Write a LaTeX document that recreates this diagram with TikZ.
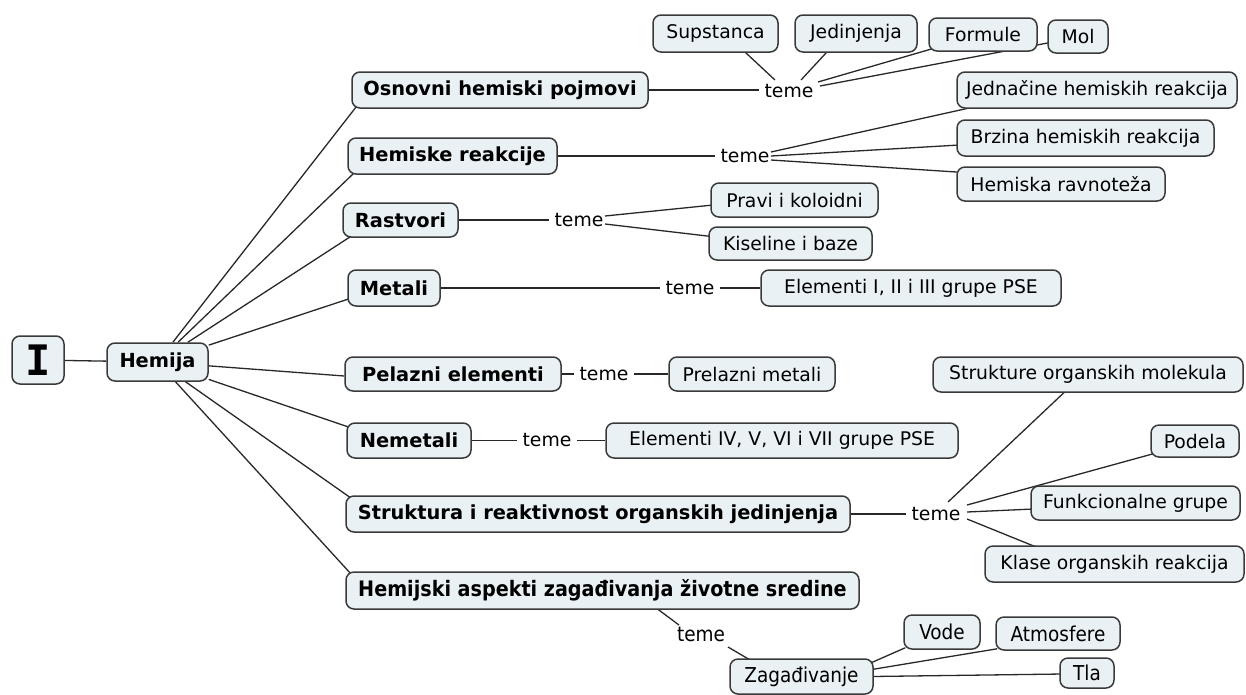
\documentclass[tikz,border=0pt]{standalone}
\usepackage{fontspec}
\setmainfont{DejaVu Sans}
\newfontfamily\condfont{DejaVu Sans Condensed}
\newfontfamily\slabfont{DejaVu Sans Mono}
\usetikzlibrary{calc,backgrounds}
\definecolor{boxfill}{RGB}{234,241,245}
\definecolor{boxline}{RGB}{58,58,58}
\definecolor{linecol}{RGB}{40,40,40}
\begin{document}
\begin{tikzpicture}[x=1pt,y=-1pt,
 box/.style={draw=boxline, fill=boxfill, line width=1.5pt, rounded corners=8pt, inner sep=0pt, align=center, font=\fontsize{18.8}{22}\selectfont},
 mainbox/.style={box, font=\fontsize{19.4}{23}\selectfont\bfseries},
 cbox/.style={box, font=\fontsize{20.5}{24}\selectfont\condfont},
 cmain/.style={box, font=\fontsize{21.3}{24}\selectfont\condfont\bfseries},
 tm/.style={inner xsep=5pt, inner ysep=2pt, font=\fontsize{18.8}{22}\selectfont},
 ctm/.style={inner xsep=5pt, inner ysep=2pt, font=\fontsize{20.5}{24}\selectfont\condfont},
 link/.style={draw=linecol, line width=1.3pt}]
\useasboundingbox (0,0) rectangle (1246,694);

% root
\node[box, minimum width=52pt, minimum height=48pt, font=\fontsize{42}{46}\selectfont\slabfont\bfseries] (root) at (38,360) {I};
\node[mainbox, minimum width=101pt, minimum height=38pt] (hemija) at (157.5,362) {Hemija};

% main topics
\node[mainbox, minimum width=296pt, minimum height=36pt] (osn) at (500,90) {Osnovni hemiski pojmovi};
\node[mainbox, minimum width=209pt, minimum height=36pt] (hem) at (452.5,156) {Hemiske reakcije};
\node[mainbox, minimum width=115pt, minimum height=34pt] (ras) at (400.5,220) {Rastvori};
\node[mainbox, minimum width=92pt, minimum height=36pt] (met) at (394,288) {Metali};
\node[mainbox, minimum width=216pt, minimum height=34pt] (pel) at (453,374) {Pelazni elementi};
\node[mainbox, minimum width=124pt, minimum height=35pt] (nem) at (409,440.5) {Nemetali};
\node[mainbox, minimum width=504pt, minimum height=36pt] (str) at (598,514) {Struktura i reaktivnost organskih jedinjenja};
\node[cmain, minimum width=513pt, minimum height=37pt] (hza) at (602.5,590.5) {Hemijski aspekti zagađivanja životne sredine};

% teme labels
\node[tm] (t1) at (789,91) {teme};
\node[tm] (t2) at (745,156) {teme};
\node[tm] (t3) at (579,220) {teme};
\node[tm] (t4) at (690,288) {teme};
\node[tm] (t5) at (604,374) {teme};
\node[tm] (t6) at (547,440.5) {teme};
\node[tm] (t7) at (936,514) {teme};
\node[ctm] (t8) at (701,634) {teme};

% leaves
\node[box, minimum width=125pt, minimum height=37pt] (sup) at (715.5,33.5) {Supstanca};
\node[box, minimum width=122pt, minimum height=37pt] (jed) at (856,33.5) {Jedinjenja};
\node[box, minimum width=108pt, minimum height=33pt] (for) at (983,34.5) {Formule};
\node[box, minimum width=60pt, minimum height=33pt] (mol) at (1078,36.5) {Mol};
\node[box, minimum width=280pt, minimum height=36pt] (jedn) at (1097,90) {Jednačine hemiskih reakcija};
\node[box, minimum width=257pt, minimum height=36pt] (brz) at (1085.5,138) {Brzina hemiskih reakcija};
\node[box, minimum width=208pt, minimum height=34pt] (rav) at (1061,184) {Hemiska ravnoteža};
\node[box, minimum width=167pt, minimum height=34pt] (pra) at (794.5,200) {Pravi i koloidni};
\node[box, minimum width=163pt, minimum height=33pt] (kis) at (790.5,243.5) {Kiseline i baze};
\node[box, minimum width=300pt, minimum height=36pt] (el1) at (911,288) {Elementi I, II i III grupe PSE};
\node[box, minimum width=166pt, minimum height=34pt] (pre) at (752,374) {Prelazni metali};
\node[box, minimum width=352pt, minimum height=35pt] (el4) at (782,440.5) {Elementi IV, V, VI i VII grupe PSE};
\node[box, minimum width=310pt, minimum height=35pt] (stk) at (1088,374.5) {Strukture organskih molekula};
\node[box, minimum width=88pt, minimum height=32pt] (pod) at (1195,441) {Podela};
\node[box, minimum width=209pt, minimum height=34pt] (fun) at (1135.5,503) {Funkcionalne grupe};
\node[box, minimum width=259pt, minimum height=36pt] (kla) at (1114.5,564) {Klase organskih reakcija};
\node[cbox, minimum width=143pt, minimum height=35pt] (zag) at (801.5,676.5) {Zagađivanje};
\node[cbox, minimum width=76pt, minimum height=34pt] (vod) at (942,632) {Vode};
\node[cbox, minimum width=124pt, minimum height=33pt] (atm) at (1058,633.5) {Atmosfere};
\node[cbox, minimum width=54pt, minimum height=30pt] (tla) at (1087,673) {Tla};

\begin{pgfonlayer}{background}
% root to hemija
\draw[link] (root) -- (hemija);
% hemija to main topics
\draw[link] (hemija) -- ($(osn.south west)+(5,-2)$);
\draw[link] (hemija) -- ($(hem.south west)+(7,-2)$);
\draw[link] (hemija) -- ($(ras.south west)+(8,-1)$);
\draw[link] (hemija) -- ($(met.south west)+(2,-8)$);
\draw[link] (hemija) -- ($(pel.west)+(0,2)$);
\draw[link] (hemija) -- ($(nem.north west)+(3,5)$);
\draw[link] (hemija) -- ($(str.north west)+(6,3)$);
\draw[link] (hemija) -- ($(hza.north west)+(6,3)$);
% main to teme
\draw[link] (osn.east) -- (t1.west |- osn.east);
\draw[link] (hem.east) -- (t2.west |- hem.east);
\draw[link] (ras.east) -- (t3.west |- ras.east);
\draw[link] (met.east) -- (t4.west |- met.east);
\draw[link] (pel.east) -- (t5.west |- pel.east);
\draw[link] (nem.east) -- (t6.west |- nem.east);
\draw[link] (str.east) -- (t7.west |- str.east);
\draw[link] ($(hza.south)+(52,-3)$) -- ($(t8.center)+(-22,-9)$);
% teme to leaves
\draw[link] ($(t1.center)+(-14,-11)$) -- ($(sup.south)+(27,-3)$);
\draw[link] ($(t1.center)+(12,-11)$) -- ($(jed.south)+(-27,-3)$);
\draw[link] ($(t1.center)+(29,-9)$) -- ($(for.south west)+(4,-3)$);
\draw[link] ($(t1.center)+(31,-5)$) -- ($(mol.west)+(3,6)$);
\draw[link] ($(t2.center)+(26,-4)$) -- ($(jedn.south west)+(23,-3)$);
\draw[link] ($(t2.center)+(26,0)$) -- ($(brz.west)+(3,7)$);
\draw[link] ($(t2.center)+(26,4)$) -- ($(rav.north west)+(4,6)$);
\draw[link] ($(t3.center)+(26,-4)$) -- ($(pra.west)+(3,5)$);
\draw[link] ($(t3.center)+(26,4)$) -- ($(kis.west)+(3,-7)$);
\draw[link] (t4.east) -- (el1.west |- t4.east);
\draw[link] (t5.east) -- (pre.west |- t5.east);
\draw[link] (t6.east) -- (el4.west |- t6.east);
\draw[link] ($(t7.center)+(12,-12)$) -- ($(stk.south)+(-21,-3)$);
\draw[link] ($(t7.center)+(31,-9)$) -- ($(pod.south west)+(3,-4)$);
\draw[link] ($(t7.center)+(31,-2)$) -- ($(fun.west)+(3,6)$);
\draw[link] ($(t7.center)+(31,5)$) -- ($(kla.north west)+(55,3)$);
\draw[link] ($(t8.center)+(27,13)$) -- ($(zag.north west)+(23,3)$);
\draw[link] ($(zag.east)+(-2,-14)$) -- ($(vod.south west)+(2,-2)$);
\draw[link] ($(zag.east)+(-2,-7)$) -- ($(atm.south west)+(2,-2)$);
\draw[link] ($(zag.east)+(-2,0)$) -- ($(tla.west)+(3,1)$);
\end{pgfonlayer}
\end{tikzpicture}
\end{document}
